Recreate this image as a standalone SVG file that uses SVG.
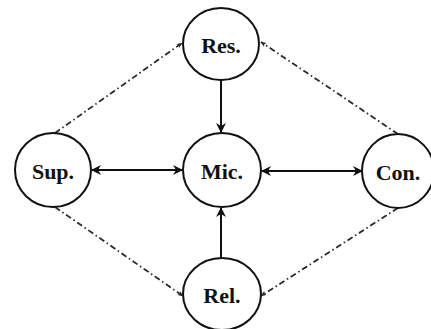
<svg xmlns="http://www.w3.org/2000/svg" width="431" height="329" viewBox="0 0 431 329">
<style>
.node ellipse{fill:#fff;stroke:#111;stroke-width:2}
.node text{font-family:"Liberation Serif","Times New Roman",serif;font-weight:bold;font-size:22px;fill:#111;text-anchor:middle;dominant-baseline:central}
.solid{stroke:#111;stroke-width:2;fill:none}
.dash{stroke:#2a2a2a;stroke-width:1.8;fill:none;stroke-dasharray:6 3 1.5 3}
</style>
<defs>
<marker id="ahs" viewBox="0 0 10 10" refX="9" refY="5" markerWidth="6" markerHeight="6" orient="auto" markerUnits="userSpaceOnUse">
<path d="M0,1 L10,5 L0,9 L2.5,5 Z" fill="#2a2a2a"/>
</marker>
<marker id="ahb" viewBox="0 0 10 10" refX="9" refY="5" markerWidth="10" markerHeight="10" orient="auto-start-reverse" markerUnits="userSpaceOnUse">
<path d="M0,0 L10,5 L0,10 L3,5 Z" fill="#111"/>
</marker>
</defs>
<g id="connectors">
<line class="solid" x1="221" y1="80" x2="221" y2="132" marker-end="url(#ahb)"/>
<line class="solid" x1="221" y1="258" x2="221" y2="208" marker-end="url(#ahb)"/>
<line class="solid" x1="92" y1="170" x2="182" y2="170" marker-start="url(#ahb)" marker-end="url(#ahb)"/>
<line class="solid" x1="262" y1="171" x2="362" y2="171" marker-start="url(#ahb)" marker-end="url(#ahb)"/>
<line class="dash" x1="55" y1="133" x2="182" y2="43" marker-end="url(#ahs)"/>
<line class="dash" x1="398" y1="134" x2="261" y2="42" marker-end="url(#ahs)"/>
<line class="dash" x1="55" y1="207" x2="183" y2="296" marker-end="url(#ahs)"/>
<line class="dash" x1="398" y1="208" x2="261" y2="296" marker-end="url(#ahs)"/>
</g>
<g id="res" class="node"><ellipse cx="221" cy="44" rx="38" ry="36"/><text x="221" y="45">Res.</text></g>
<g id="mic" class="node"><ellipse cx="222" cy="170" rx="39" ry="37"/><text x="222" y="171">Mic.</text></g>
<g id="sup" class="node"><ellipse cx="53" cy="170" rx="38" ry="37"/><text x="53" y="171">Sup.</text></g>
<g id="con" class="node"><ellipse cx="398" cy="171" rx="36" ry="37"/><text x="398" y="172">Con.</text></g>
<g id="rel" class="node"><ellipse cx="222" cy="294" rx="39" ry="36"/><text x="222" y="295">Rel.</text></g>
</svg>
